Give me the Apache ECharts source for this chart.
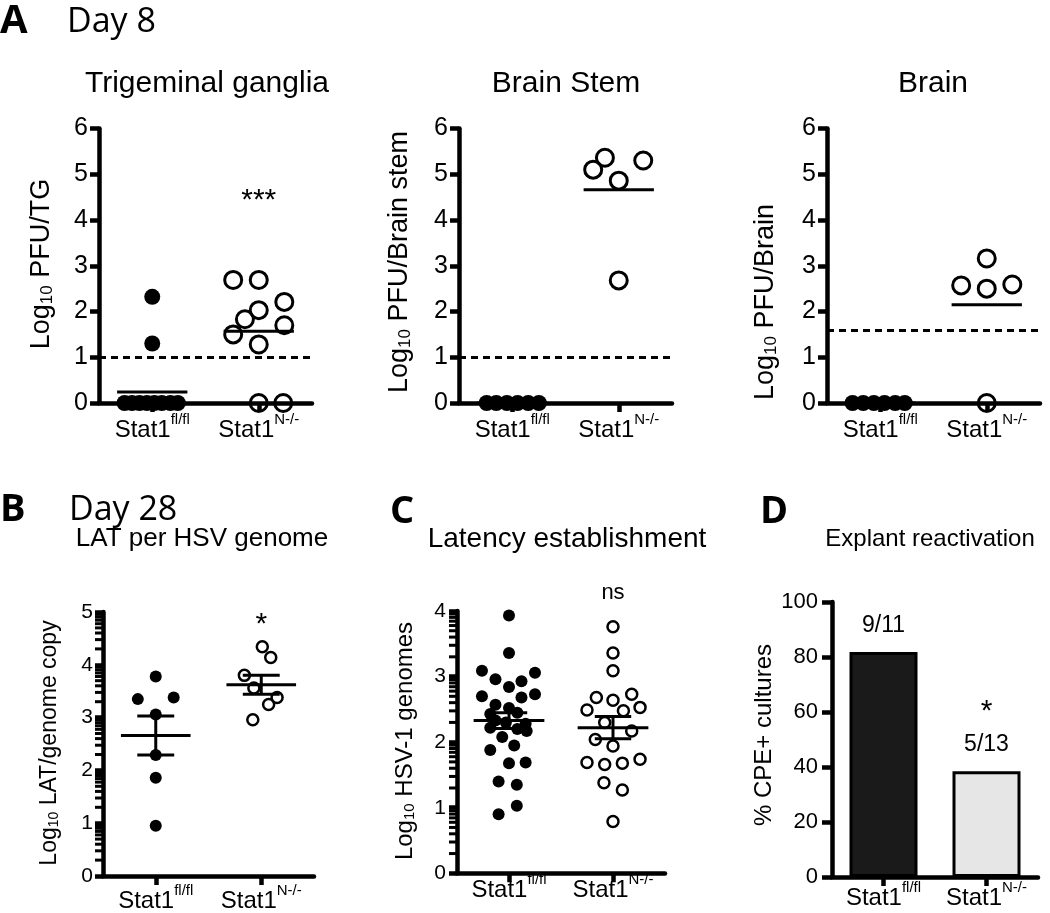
<!DOCTYPE html>
<html><head><meta charset="utf-8">
<script src="https://cdn.jsdelivr.net/npm/echarts@6/dist/echarts.min.js"></script>
<style>html,body{margin:0;padding:0;background:#fff}#c{width:1050px;height:913px}</style>
</head><body><div id="c"></div><script>
// ---------------- DATA ----------------
const groupBase = 'Stat1';
const groupSup = ['fl/fl', 'N-/-'];

// A: Day 8 - Trigeminal ganglia
const tgFlVals = [2.32, 1.30, 0, 0, 0, 0, 0, 0, 0, 0];
const tgFlJit  = [0, 0, -0.26, -0.19, -0.12, -0.05, 0.02, 0.09, 0.17, 0.24];
const tgNVals  = [2.69, 2.69, 2.21, 2.03, 1.83, 1.70, 1.50, 1.28, 0, 0];
const tgNJit   = [-0.24, 0, 0.24, 0, -0.13, 0.24, -0.24, 0, 0, 0.23];
const tgMean   = [0.24, 1.57];
const tgLimit  = 1;
// A: Brain Stem
const bsFlVals = [0, 0, 0, 0, 0, 0];
const bsFlJit  = [-0.24, -0.15, -0.05, 0.05, 0.15, 0.25];
const bsNVals  = [5.36, 5.10, 5.30, 4.86, 2.68];
const bsNJit   = [-0.13, -0.24, 0.23, 0, 0];
const bsMean   = [0, 4.66];
const bsLimit  = 1;
// A: Brain
const brFlVals = [0, 0, 0, 0, 0, 0];
const brFlJit  = [-0.26, -0.16, -0.06, 0.04, 0.14, 0.23];
const brNVals  = [3.16, 2.57, 2.50, 2.59, 0];
const brNJit   = [0, -0.24, 0, 0.24, 0];
const brMean   = [0, 2.15];
const brLimit  = 1.6;
const aTicks = [0, 6, 1];

// B: LAT per HSV genome
const bFlVals = [3.78, 3.35, 3.38, 3.06, 2.29, 1.86, 0.95];
const bFlJit  = [0, -0.17, 0.17, 0, 0, 0, 0];
const bNVals  = [4.34, 4.14, 3.80, 3.56, 3.38, 3.25, 2.96];
const bNJit   = [0.01, 0.09, -0.16, -0.07, 0.15, 0.07, -0.08];
const bMean   = [2.66, 3.62];
const bSem    = [0.37, 0.18];
const bTicks  = [0, 5, 1];

// C: Latency establishment
const cFlVals = [3.93, 3.36, 3.09, 3.06, 2.96, 2.93, 2.84, 2.70, 2.73, 2.68, 2.57, 2.52, 2.43, 2.45, 2.33, 2.30, 2.28, 2.22, 2.20, 2.17, 2.08, 1.95, 1.88, 1.68, 1.69, 1.40, 1.35, 1.03, 0.90];
const cFlJit  = [0, 0, -0.26, 0.25, -0.13, 0.12, 0, -0.26, 0.25, 0.12, -0.13, 0, -0.18, 0.08, -0.13, -0.03, 0.16, -0.18, 0.08, 0.17, -0.065, 0.05, -0.18, 0, 0.16, -0.10, 0.075, 0.075, -0.10];
const cNVals  = [3.76, 3.36, 3.09, 2.68, 2.73, 2.64, 2.49, 2.48, 2.53, 2.30, 2.17, 2.04, 1.94, 1.69, 1.66, 1.68, 1.74, 1.38, 1.27, 0.79];
const cNJit   = [0, 0, 0, -0.16, 0.18, 0, -0.25, 0.10, 0.26, -0.08, 0.18, -0.17, 0, -0.25, -0.08, 0.09, 0.26, -0.087, 0.09, 0];
const cMean   = [2.33, 2.22];
const cSem    = [0.12, 0.17];
const cTicks  = [0, 4, 1];

// D: Explant reactivation
const dVals   = [81.8, 38.5];
const dLabels = ['9/11', '5/13'];
const dTicks  = [0, 100, 20];

// ---------------- CHART ----------------
const FONT = "'Liberation Sans', Arial, sans-serif";
const HFONT = "'Open Sans', 'Lato', sans-serif";
const grids = [], xAxes = [], yAxes = [], series = [], graphics = [];

function addPanel(box, yr, opt) {
  const gi = grids.length;
  grids.push({left: box[0], top: box[1], width: box[2], height: box[3], containLabel: false});
  const catIdx = xAxes.length;
  xAxes.push({
    type: 'category', gridIndex: gi, data: groupSup.slice(), position: 'bottom',
    axisLine: {show: true, onZero: false, lineStyle: {color: '#000', width: opt.lw}},
    axisTick: {show: true, alignWithLabel: true, length: 9, lineStyle: {color: '#000', width: opt.lw}},
    axisLabel: {
      interval: 0, margin: opt.xMargin,
      formatter: function (v, i) { return '{b|' + groupBase + '}{s|' + groupSup[i] + '}'; },
      rich: {
        b: {fontSize: opt.xFont, fontFamily: FONT, color: '#000', lineHeight: opt.xFont + 6, verticalAlign: 'bottom'},
        s: {fontSize: Math.round(opt.xFont * 0.64), fontFamily: FONT, color: '#000', lineHeight: 14, verticalAlign: 'top'}
      }
    },
    splitLine: {show: false}
  });
  let valIdx = null;
  if (!opt.bar) {
    valIdx = xAxes.length;
    xAxes.push({type: 'value', gridIndex: gi, min: 0.5, max: 2.5, show: false});
  }
  const yi = yAxes.length;
  yAxes.push({
    type: 'value', gridIndex: gi, min: yr[0], max: yr[1], interval: yr[2],
    axisLine: {show: true, lineStyle: {color: '#000', width: opt.lw}},
    axisTick: {show: true, length: opt.tickLen, lineStyle: {color: '#000', width: opt.lw}},
    axisLabel: {fontSize: opt.yFont, fontFamily: FONT, color: '#000', margin: opt.yMargin},
    splitLine: {show: false}
  });
  return {gi, catIdx, valIdx, yi};
}

function scatterSeries(ax, g, vals, jit, filled, size, bw, extra) {
  return Object.assign({
    type: 'scatter', xAxisIndex: ax.valIdx, yAxisIndex: ax.yi, silent: true,
    data: vals.map((v, i) => [g + jit[i], v]),
    symbol: 'circle', symbolSize: size, clip: false, z: 3,
    itemStyle: filled ? {color: '#000', opacity: 1} : {color: 'rgba(255,255,255,0)', borderColor: '#000', borderWidth: bw, opacity: 1}
  }, extra || {});
}

function meanSeries(ax, means, sems, hw, ww) {
  return {
    type: 'custom', xAxisIndex: ax.valIdx, yAxisIndex: ax.yi, silent: true, z: 4, clip: false,
    encode: {x: 0, y: 1},
    data: means.map((m, i) => [i + 1, m, sems ? sems[i] : 0]),
    renderItem: function (params, api) {
      const x = api.value(0), m = api.value(1), s = api.value(2);
      const L = api.coord([x - hw, m]), R = api.coord([x + hw, m]);
      const st = {stroke: '#000', lineWidth: 3};
      const ch = [{type: 'line', shape: {x1: L[0], y1: L[1], x2: R[0], y2: R[1]}, style: st}];
      if (s > 0) {
        const T = api.coord([x, m + s]), B = api.coord([x, m - s]);
        const wl = api.coord([x - ww, m])[0], wr = api.coord([x + ww, m])[0];
        ch.push({type: 'line', shape: {x1: T[0], y1: T[1], x2: B[0], y2: B[1]}, style: st});
        ch.push({type: 'line', shape: {x1: wl, y1: T[1], x2: wr, y2: T[1]}, style: st});
        ch.push({type: 'line', shape: {x1: wl, y1: B[1], x2: wr, y2: B[1]}, style: st});
      }
      return {type: 'group', children: ch};
    }
  };
}

function minorTickSeries(ax, yr) {
  const vals = [];
  for (let d = yr[0]; d < yr[1]; d++) for (let k = 2; k <= 9; k++) vals.push([0.5, d + Math.log10(k)]);
  return {
    type: 'custom', xAxisIndex: ax.valIdx, yAxisIndex: ax.yi, silent: true, z: 1, clip: false,
    encode: {x: 0, y: 1}, data: vals,
    renderItem: function (params, api) {
      const p = api.coord([api.value(0), api.value(1)]);
      return {type: 'line', shape: {x1: p[0] - 8, y1: p[1], x2: p[0], y2: p[1]}, style: {stroke: '#000', lineWidth: 3}};
    }
  };
}

function textMark(xIdx, yIdx, pos, text, size) {
  return {
    type: 'scatter', xAxisIndex: xIdx, yAxisIndex: yIdx, silent: true, clip: false, z: 5,
    data: [pos], symbolSize: 1, itemStyle: {color: 'rgba(0,0,0,0)', opacity: 1},
    label: {show: true, position: 'inside', formatter: text, fontSize: size, fontFamily: FONT, color: '#000', opacity: 1}
  };
}

function limitLine(v) {
  return {silent: true, symbol: 'none', label: {show: false},
    lineStyle: {type: [7, 5], width: 3, color: '#000', opacity: 1}, data: [{yAxis: v}]};
}

const aOpt = {lw: 4.5, tickLen: 9, xMargin: 9, xFont: 24, yFont: 25, yMargin: 11};

// A panels
const A1 = addPanel([99, 128.5, 213, 274.5], aTicks, aOpt);
series.push(scatterSeries(A1, 1, tgFlVals, tgFlJit, true, 16, 0, {markLine: limitLine(tgLimit)}));
series.push(scatterSeries(A1, 2, tgNVals, tgNJit, false, 17, 3));
series.push(meanSeries(A1, tgMean, null, 0.33, 0));
series.push(textMark(A1.valIdx, A1.yi, [2, 4.43], '***', 30));

const A2 = addPanel([459, 128.5, 213, 274.5], aTicks, aOpt);
series.push(scatterSeries(A2, 1, bsFlVals, bsFlJit, true, 16, 0, {markLine: limitLine(bsLimit)}));
series.push(scatterSeries(A2, 2, bsNVals, bsNJit, false, 17, 3));
series.push(meanSeries(A2, bsMean, null, 0.33, 0));

const A3 = addPanel([827, 128.5, 213, 274.5], aTicks, aOpt);
series.push(scatterSeries(A3, 1, brFlVals, brFlJit, true, 16, 0, {markLine: limitLine(brLimit)}));
series.push(scatterSeries(A3, 2, brNVals, brNJit, false, 17, 3));
series.push(meanSeries(A3, brMean, null, 0.33, 0));

// B
const bOpt = {lw: 4.5, tickLen: 8, xMargin: 7, xFont: 24, yFont: 21, yMargin: 10};
const PB = addPanel([103, 612, 211, 264], bTicks, bOpt);
series.push(minorTickSeries(PB, bTicks));
series.push(scatterSeries(PB, 1, bFlVals, bFlJit, true, 12, 0));
series.push(scatterSeries(PB, 2, bNVals, bNJit, false, 11, 2.5));
series.push(meanSeries(PB, bMean, bSem, 0.33, 0.175));
series.push(textMark(PB.valIdx, PB.yi, [2, 4.75], '*', 30));

// C
const cOpt = {lw: 4.5, tickLen: 8, xMargin: -1, xFont: 24, yFont: 21, yMargin: 11};
const PC = addPanel([457, 611, 208, 262.3], cTicks, cOpt);
series.push(minorTickSeries(PC, cTicks));
series.push(scatterSeries(PC, 1, cFlVals, cFlJit, true, 12, 0));
series.push(scatterSeries(PC, 2, cNVals, cNJit, false, 11, 2.5));
series.push(meanSeries(PC, cMean, cSem, 0.34, 0.175));
series.push(textMark(PC.valIdx, PC.yi, [2, 4.28], 'ns', 22));

// D
const dOpt = {lw: 4.5, tickLen: 10, xMargin: 3, xFont: 24, yFont: 22, yMargin: 14, bar: true};
const PD = addPanel([832, 602, 206, 275], dTicks, dOpt);
series.push({
  type: 'bar', xAxisIndex: PD.catIdx, yAxisIndex: PD.yi, silent: true, barWidth: 68, z: 2,
  data: dVals.map((v, i) => ({value: v, itemStyle: {color: i === 0 ? '#1a1a1a' : '#e6e6e6'}})),
  itemStyle: {borderColor: '#000', borderWidth: 3, opacity: 1},
  label: {show: true, position: 'top', distance: 15, fontSize: 23, fontFamily: FONT, color: '#000',
    formatter: function (p) { return dLabels[p.dataIndex]; }}
});
series.push(textMark(PD.catIdx, PD.yi, [1, 60], '*', 30));

// ---- Texts ----
function txt(x, y, text, font, align) {
  graphics.push({type: 'text', x: x, y: y, silent: true,
    style: {text: text, font: font, fill: '#000', textAlign: align || 'left', textVerticalAlign: 'middle'}});
}
function yName(x, y, parts, size) {
  graphics.push({type: 'text', x: x, y: y, rotation: Math.PI / 2, silent: true,
    style: {
      text: '{a|Log}{s|10}{a|' + parts + '}',
      rich: {
        a: {fontSize: size, fontFamily: FONT, fill: '#000', textFill: '#000'},
        s: {fontSize: Math.round(size * 0.62), fontFamily: FONT, fill: '#000', textFill: '#000', verticalAlign: 'bottom'}
      },
      textAlign: 'center', textVerticalAlign: 'middle'
    }});
}

txt(0, 22, 'A', 'bold 40px ' + HFONT);
txt(67, 22, 'Day 8', '34px ' + HFONT);
txt(207, 84, 'Trigeminal ganglia', '30px ' + FONT, 'center');
txt(566, 84, 'Brain Stem', '30px ' + FONT, 'center');
txt(933, 84, 'Brain', '30px ' + FONT, 'center');
txt(0, 510, 'B', 'bold 38px ' + HFONT);
txt(69, 510, 'Day 28', '34px ' + HFONT);
txt(202, 539, 'LAT per HSV genome', '26px ' + FONT, 'center');
txt(390, 512, 'C', 'bold 38px ' + HFONT);
txt(567, 539, 'Latency establishment', '28px ' + FONT, 'center');
txt(760, 512, 'D', 'bold 38px ' + HFONT);
txt(930, 539, 'Explant reactivation', '24px ' + FONT, 'center');

yName(42, 264, ' PFU/TG', 27);
yName(400, 262, ' PFU/Brain stem', 27);
yName(766, 302, ' PFU/Brain', 27);
yName(50, 743, ' LAT/genome copy', 23);
yName(405, 741, ' HSV-1 genomes', 24);
graphics.push({type: 'text', x: 764, y: 735, rotation: Math.PI / 2, silent: true,
  style: {text: '% CPE+ cultures', font: '24px ' + FONT, fill: '#000', textAlign: 'center', textVerticalAlign: 'middle'}});

const chart = echarts.init(document.getElementById('c'), null, {renderer: 'canvas'});
chart.setOption({
  animation: false, backgroundColor: '#fff',
  grid: grids, xAxis: xAxes, yAxis: yAxes, series: series, graphic: graphics
});
</script></body></html>
